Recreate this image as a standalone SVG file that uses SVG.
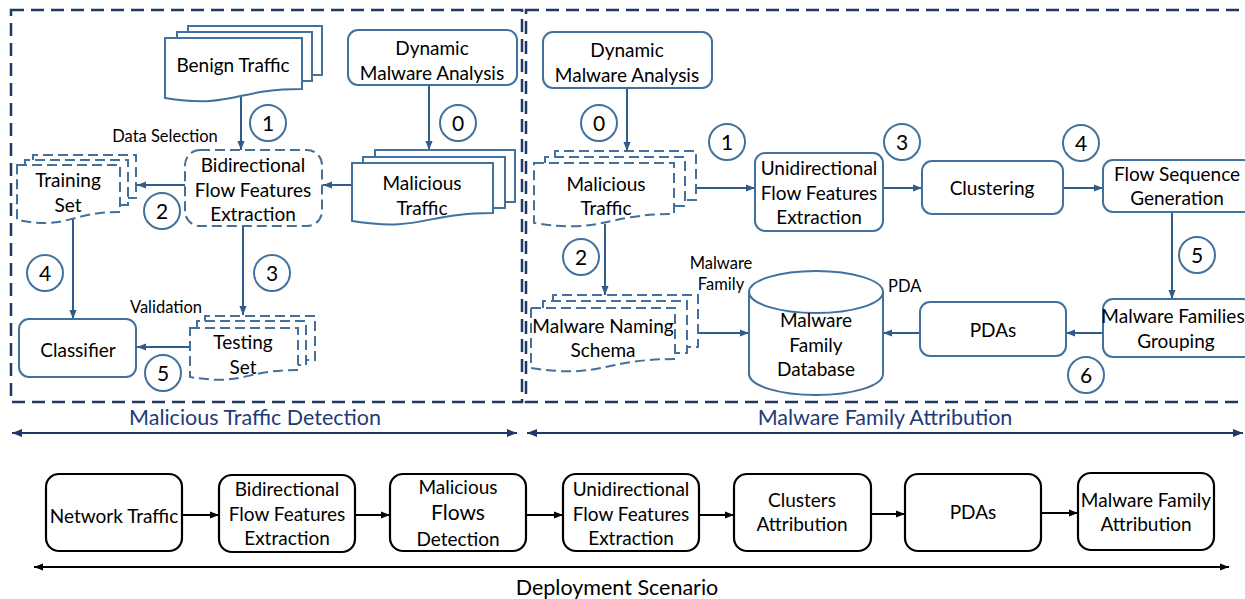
<svg xmlns="http://www.w3.org/2000/svg" width="1245" height="599" viewBox="0 0 1245 599">
  <style>
    .t { font-family: Lato, "Liberation Sans", sans-serif; font-size: 19px; text-anchor: middle; fill: #000; }
    .d { font-family: Lato, "Liberation Sans", sans-serif; font-size: 21px; text-anchor: middle; fill: #000; }
    .s { font-family: Lato, "Liberation Sans", sans-serif; font-size: 16.5px; text-anchor: middle; fill: #000; }
    .n { font-family: Lato, "Liberation Sans", sans-serif; font-size: 21px; text-anchor: middle; fill: #000; }
    .pl { font-family: Lato, "Liberation Sans", sans-serif; font-size: 21.5px; text-anchor: middle; fill: #1F3A78; }
    .box { fill: #fff; stroke: #41719C; stroke-width: 2; }
    .dbox { fill: #fff; stroke: #41719C; stroke-width: 2; stroke-dasharray: 10 5; }
    .back { fill: none; stroke: #41719C; stroke-width: 2; }
    .dback { fill: none; stroke: #41719C; stroke-width: 2; stroke-dasharray: 10 5; }
    .num { fill: #fff; stroke: #41719C; stroke-width: 2; }
    .panel { fill: none; stroke: #1F3864; stroke-width: 2.5; stroke-dasharray: 13 7; }
    .kbox { fill: #fff; stroke: #000; stroke-width: 2.2; }
    .c { fill: none; stroke: #2F5C8A; stroke-width: 2; marker-end: url(#ah); }
    .ck { fill: none; stroke: #000; stroke-width: 2; marker-end: url(#ahk); }
    .span { fill: none; stroke: #1F3864; stroke-width: 2; marker-start: url(#ahn); marker-end: url(#ahn); }
    .spank { fill: none; stroke: #000; stroke-width: 2; marker-start: url(#ahk); marker-end: url(#ahk); }
  </style>
  <defs>
    <marker id="ah" viewBox="0 0 10 10" refX="10" refY="5" markerWidth="9" markerHeight="9" markerUnits="userSpaceOnUse" orient="auto-start-reverse">
      <path d="M0,1 L10,5 L0,9 Z" fill="#2F5C8A"/>
    </marker>
    <marker id="ahk" viewBox="0 0 10 10" refX="10" refY="5" markerWidth="9" markerHeight="9" markerUnits="userSpaceOnUse" orient="auto-start-reverse">
      <path d="M0,1 L10,5 L0,9 Z" fill="#000"/>
    </marker>
    <marker id="ahn" viewBox="0 0 10 10" refX="10" refY="5" markerWidth="10" markerHeight="10" markerUnits="userSpaceOnUse" orient="auto-start-reverse">
      <path d="M0,1 L10,5 L0,9 Z" fill="#1F3864"/>
    </marker>
  </defs>

  <rect width="1245" height="599" fill="#fff"/>

  <!-- panels -->
  <g id="panel-detection">
    <rect class="panel" x="11" y="10" width="511" height="392"/>
    <text class="pl" x="255" y="425">Malicious Traffic Detection</text>
  </g>
  <g id="panel-attribution">
    <rect class="panel" x="526" y="10" width="740" height="392"/>
    <text class="pl" x="885" y="425">Malware Family Attribution</text>
  </g>

  <!-- connectors -->
  <g id="connectors">
    <!-- detection panel -->
    <path class="c" d="M241,97 V150"/>
    <path class="c" d="M429,85 V150"/>
    <path class="c" d="M352,185 H323"/>
    <path class="c" d="M185,185 H137"/>
    <path class="c" d="M73,218 V319"/>
    <path class="c" d="M243,226 V315"/>
    <path class="c" d="M190,347 H137"/>
    <!-- attribution panel -->
    <path class="c" d="M627,88 V151"/>
    <path class="c" d="M696,188 H755"/>
    <path class="c" d="M883,188 H922"/>
    <path class="c" d="M1063,188 H1103"/>
    <path class="c" d="M1172,212 V299"/>
    <path class="c" d="M1103,333 H1066"/>
    <path class="c" d="M920,333 H883"/>
    <path class="c" d="M605,224 V295"/>
    <path class="c" d="M698,333 H749"/>
    <!-- panel spans -->
    <path class="span" d="M12,433 H517"/>
    <path class="span" d="M527,433 H1243"/>
    <!-- deployment row -->
    <path class="ck" d="M182,515 H219"/>
    <path class="ck" d="M355,515 H390"/>
    <path class="ck" d="M526,515 H563"/>
    <path class="ck" d="M699,515 H734"/>
    <path class="ck" d="M871,514 H905"/>
    <path class="ck" d="M1041,513 H1078"/>
    <path class="spank" d="M34,567 H1229"/>
  </g>

  <!-- step numbers -->
  <g id="steps">
    <circle class="num" cx="268" cy="123" r="18"/><text class="d" x="268" y="130.5">1</text>
    <circle class="num" cx="458" cy="123" r="18"/><text class="d" x="458" y="130.5">0</text>
    <circle class="num" cx="162" cy="211" r="18"/><text class="d" x="162" y="218.5">2</text>
    <circle class="num" cx="45" cy="273" r="18"/><text class="d" x="45" y="280.5">4</text>
    <circle class="num" cx="272" cy="273" r="18"/><text class="d" x="272" y="280.5">3</text>
    <circle class="num" cx="163" cy="373" r="18"/><text class="d" x="163" y="380.5">5</text>
    <circle class="num" cx="599" cy="123" r="18"/><text class="d" x="599" y="130.5">0</text>
    <circle class="num" cx="727" cy="142" r="18"/><text class="d" x="727" y="149.5">1</text>
    <circle class="num" cx="902" cy="142" r="18"/><text class="d" x="902" y="149.5">3</text>
    <circle class="num" cx="1081" cy="143" r="18"/><text class="d" x="1081" y="150.5">4</text>
    <circle class="num" cx="1197" cy="255" r="18"/><text class="d" x="1197" y="262.5">5</text>
    <circle class="num" cx="581" cy="257" r="18"/><text class="d" x="581" y="264.5">2</text>
    <circle class="num" cx="1086" cy="375" r="18"/><text class="d" x="1086" y="382.5">6</text>
  </g>

  <!-- edge labels -->
  <g id="labels">
    <text class="s" x="165" y="142">Data Selection</text>
    <text class="s" x="166" y="313">Validation</text>
    <text class="s" x="721" y="269">Malware</text>
    <text class="s" x="721" y="290">Family</text>
    <text class="s" x="888" y="292" style="text-anchor:start">PDA</text>
  </g>

  <!-- detection panel nodes -->
  <g id="benign-traffic">
    <path class="back" d="M188,32 V26 H322 V75 H312"/>
    <path class="back" d="M177,38 V32 H312 V81 H302"/>
    <path class="box" d="M165,38 H302 V89 C233.5,89 233.5,109 165,98 Z"/>
    <text class="t" x="233" y="72">Benign Traffic</text>
  </g>
  <g id="dynamic-analysis-a">
    <rect class="box" x="348" y="30" width="169" height="55" rx="10"/>
    <text class="t" x="432" y="55">Dynamic</text>
    <text class="t" x="432" y="80">Malware Analysis</text>
  </g>
  <g id="malicious-traffic-a">
    <path class="back" d="M375,157 V150 H515 V202 H505"/>
    <path class="back" d="M363,163 V157 H505 V208 H493"/>
    <path class="box" d="M352,163 H493 V213 C422.5,213 422.5,232 352,221 Z"/>
    <text class="t" x="422" y="190">Malicious</text>
    <text class="t" x="422" y="215">Traffic</text>
  </g>
  <g id="bidirectional-extraction">
    <rect class="dbox" x="185" y="150" width="137" height="76" rx="15"/>
    <text class="t" x="253" y="172">Bidirectional</text>
    <text class="t" x="253" y="197">Flow Features</text>
    <text class="t" x="253" y="221">Extraction</text>
  </g>
  <g id="training-set">
    <path class="dback" d="M33,160 V155 H136 V198 H128"/>
    <path class="dback" d="M25,165 V160 H128 V205 H120"/>
    <path class="dbox" d="M17,165 H120 V212 C68.5,212 68.5,230 17,220 Z"/>
    <text class="t" x="68" y="187">Training</text>
    <text class="t" x="68" y="212">Set</text>
  </g>
  <g id="classifier">
    <rect class="box" x="19" y="319" width="117" height="58" rx="10"/>
    <text class="t" x="78" y="357">Classifier</text>
  </g>
  <g id="testing-set">
    <path class="dback" d="M205,321 V316 H315 V360 H306"/>
    <path class="dback" d="M197,328 V321 H306 V365 H298"/>
    <path class="dbox" d="M190,328 H298 V370 C244,370 244,386 190,377 Z"/>
    <text class="t" x="243" y="349">Testing</text>
    <text class="t" x="243" y="374">Set</text>
  </g>

  <!-- attribution panel nodes -->
  <g id="dynamic-analysis-b">
    <rect class="box" x="543" y="32" width="169" height="56" rx="10"/>
    <text class="t" x="627" y="57">Dynamic</text>
    <text class="t" x="627" y="82">Malware Analysis</text>
  </g>
  <g id="malicious-traffic-b">
    <path class="dback" d="M555,157 V151 H696 V200 H685"/>
    <path class="dback" d="M545,163 V157 H685 V206 H674"/>
    <path class="dbox" d="M534,163 H674 V214 C604,214 604,234 534,223 Z"/>
    <text class="t" x="606" y="191">Malicious</text>
    <text class="t" x="606" y="215">Traffic</text>
  </g>
  <g id="unidirectional-extraction">
    <rect class="box" x="755" y="153" width="128" height="78" rx="10"/>
    <text class="t" x="819" y="175">Unidirectional</text>
    <text class="t" x="819" y="200">Flow Features</text>
    <text class="t" x="819" y="224">Extraction</text>
  </g>
  <g id="clustering">
    <rect class="box" x="922" y="161" width="141" height="53" rx="10"/>
    <text class="t" x="992" y="195">Clustering</text>
  </g>
  <g id="flow-sequence">
    <rect class="box" x="1103" y="160" width="150" height="52" rx="10"/>
    <text class="t" x="1177" y="181">Flow Sequence</text>
    <text class="t" x="1177" y="205">Generation</text>
  </g>
  <g id="families-grouping">
    <rect class="box" x="1103" y="299" width="150" height="58" rx="10"/>
    <text class="t" x="1173" y="323">Malware Families</text>
    <text class="t" x="1176" y="348">Grouping</text>
  </g>
  <g id="pdas">
    <rect class="box" x="920" y="302" width="146" height="54" rx="10"/>
    <text class="t" x="993" y="337">PDAs</text>
  </g>
  <g id="family-database">
    <path class="box" d="M749,292 V374 A67,21 0 0 0 883,374 V292"/>
    <ellipse class="box" cx="816" cy="292" rx="67" ry="21"/>
    <text class="t" x="816" y="327">Malware</text>
    <text class="t" x="816" y="352">Family</text>
    <text class="t" x="816" y="376">Database</text>
  </g>
  <g id="naming-schema">
    <path class="dback" d="M553,301 V295 H698 V347 H687"/>
    <path class="dback" d="M543,308 V301 H687 V353 H675"/>
    <path class="dbox" d="M531,308 H675 V359 C603,359 603,379 531,368 Z"/>
    <text class="t" x="603" y="333">Malware Naming</text>
    <text class="t" x="603" y="357">Schema</text>
  </g>

  <!-- deployment scenario row -->
  <g id="d-network-traffic">
    <rect class="kbox" x="46" y="474" width="136" height="77" rx="13"/>
    <text class="t" x="114" y="523">Network Traffic</text>
  </g>
  <g id="d-bidirectional">
    <rect class="kbox" x="219" y="475" width="136" height="77" rx="13"/>
    <text class="t" x="287" y="496">Bidirectional</text>
    <text class="t" x="287" y="521">Flow Features</text>
    <text class="t" x="287" y="545">Extraction</text>
  </g>
  <g id="d-malicious-flows">
    <rect class="kbox" x="390" y="474" width="136" height="77" rx="13"/>
    <text class="t" x="458" y="494">Malicious</text>
    <text class="n" x="458" y="520">Flows</text>
    <text class="t" x="458" y="546">Detection</text>
  </g>
  <g id="d-unidirectional">
    <rect class="kbox" x="563" y="474" width="136" height="77" rx="13"/>
    <text class="t" x="631" y="496">Unidirectional</text>
    <text class="t" x="631" y="521">Flow Features</text>
    <text class="t" x="631" y="545">Extraction</text>
  </g>
  <g id="d-clusters">
    <rect class="kbox" x="734" y="474" width="137" height="77" rx="13"/>
    <text class="t" x="802" y="507">Clusters</text>
    <text class="t" x="802" y="531">Attribution</text>
  </g>
  <g id="d-pdas">
    <rect class="kbox" x="905" y="474" width="136" height="77" rx="13"/>
    <text class="t" x="973" y="519">PDAs</text>
  </g>
  <g id="d-family-attribution">
    <rect class="kbox" x="1078" y="473" width="136" height="77" rx="13"/>
    <text class="t" x="1146" y="507">Malware Family</text>
    <text class="t" x="1146" y="531">Attribution</text>
  </g>
  <text class="pl" x="617" y="595" style="fill:#000">Deployment Scenario</text>
</svg>
